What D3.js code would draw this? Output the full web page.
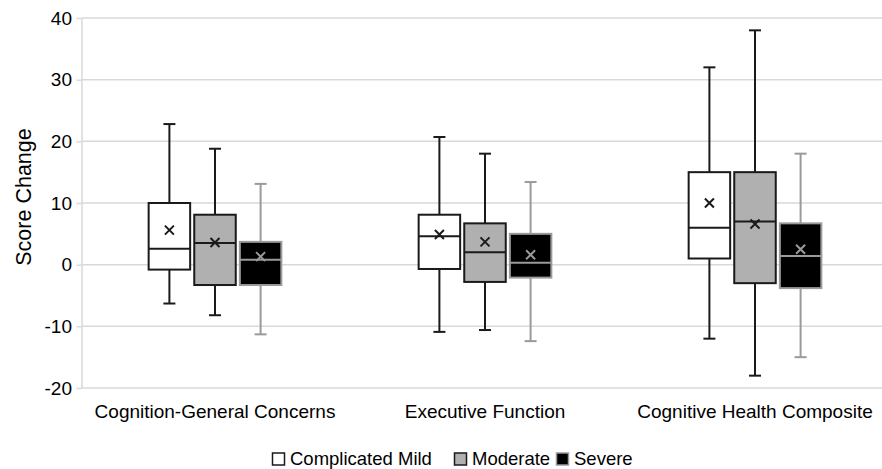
<!DOCTYPE html>
<html>
<head>
<meta charset="utf-8">
<script src="https://cdn.jsdelivr.net/npm/d3@7"></script>
<style>
  html, body { margin: 0; padding: 0; background: #fff; }
  svg { display: block; font-family: "Liberation Sans", Arial, sans-serif; }
</style>
</head>
<body>
<svg id="chart" width="882" height="469"></svg>
<script>
const categories = ["Cognition-General Concerns", "Executive Function", "Cognitive Health Composite"];
const series = ["Complicated Mild", "Moderate", "Severe"];
const yTicks = [-20, -10, 0, 10, 20, 30, 40];

// per series, one value per category
const whiskerLow = {
  "Complicated Mild": [-6.3, -10.9, -12],
  "Moderate": [-8.2, -10.6, -18],
  "Severe": [-11.3, -12.4, -15]
};
const q1 = {
  "Complicated Mild": [-0.8, -0.7, 1],
  "Moderate": [-3.3, -2.8, -3],
  "Severe": [-3.3, -2.1, -3.8]
};
const median = {
  "Complicated Mild": [2.6, 4.6, 6],
  "Moderate": [3.5, 2.0, 7],
  "Severe": [0.8, 0.3, 1.4]
};
const q3 = {
  "Complicated Mild": [10, 8.1, 15],
  "Moderate": [8.1, 6.7, 15],
  "Severe": [3.7, 5.0, 6.7]
};
const whiskerHigh = {
  "Complicated Mild": [22.8, 20.7, 32],
  "Moderate": [18.8, 18, 38],
  "Severe": [13.1, 13.4, 18]
};
const mean = {
  "Complicated Mild": [5.6, 4.9, 10],
  "Moderate": [3.6, 3.7, 6.6],
  "Severe": [1.3, 1.6, 2.5]
};

const fills = { "Complicated Mild": "#ffffff", "Moderate": "#b0b0b0", "Severe": "#000000" };
const strokes = { "Complicated Mild": "#1a1a1a", "Moderate": "#1a1a1a", "Severe": "#9a9a9a" };

const svg = d3.select("#chart");
const W = 882, H = 469;

const y = d3.scaleLinear().domain([-20, 40]).range([388, 18]);
const x = d3.scaleBand().domain(categories).range([80, 890]).padding(0);
const xs = d3.scalePoint().domain(series).range([-45.6, 45.6]);
const boxW = 41.5;
const capW = 12;
const axisX = 81.5;

// gridlines
svg.append("g").selectAll("line").data(yTicks).join("line")
  .attr("x1", axisX).attr("x2", W)
  .attr("y1", d => y(d)).attr("y2", d => y(d))
  .attr("stroke", "#d9d9d9").attr("stroke-width", 1.5);

// y axis
const yAxis = svg.append("g").attr("transform", `translate(${axisX},0)`)
  .call(d3.axisLeft(y).tickValues(yTicks).tickFormat(d => String(d))
    .tickSizeOuter(0).tickSizeInner(5).tickPadding(4.5));
yAxis.select(".domain").attr("stroke", "#d9d9d9").attr("stroke-width", 1.5);
yAxis.selectAll(".tick line").attr("stroke", "#d9d9d9").attr("stroke-width", 1.5);
yAxis.selectAll(".tick text").attr("fill", "#000").attr("font-size", 19)
  .attr("font-family", "Liberation Sans, Arial, sans-serif");

// axis title
svg.append("text")
  .attr("transform", `translate(31,197) rotate(-90)`)
  .attr("text-anchor", "middle")
  .attr("font-size", 21.5)
  .attr("fill", "#000")
  .text("Score Change");

// category labels
svg.append("g").selectAll("text").data(categories).join("text")
  .attr("x", d => x(d) + x.bandwidth() / 2)
  .attr("y", 418)
  .attr("text-anchor", "middle")
  .attr("font-size", 19)
  .attr("fill", "#000")
  .text(d => d);

// boxes
const items = [];
series.forEach(s => categories.forEach((c, i) => {
  items.push({ s, c, lo: whiskerLow[s][i], q1: q1[s][i], med: median[s][i], q3: q3[s][i], hi: whiskerHigh[s][i], mean: mean[s][i] });
}));

const g = svg.append("g").selectAll("g").data(items).join("g")
  .attr("transform", d => `translate(${x(d.c) + x.bandwidth() / 2 + xs(d.s)},0)`);

// whiskers
g.append("line").attr("x1", 0).attr("x2", 0)
  .attr("y1", d => y(d.hi)).attr("y2", d => y(d.q3))
  .attr("stroke", d => strokes[d.s]).attr("stroke-width", 2);
g.append("line").attr("x1", 0).attr("x2", 0)
  .attr("y1", d => y(d.q1)).attr("y2", d => y(d.lo))
  .attr("stroke", d => strokes[d.s]).attr("stroke-width", 2);
g.append("line").attr("x1", -capW / 2).attr("x2", capW / 2)
  .attr("y1", d => y(d.hi)).attr("y2", d => y(d.hi))
  .attr("stroke", d => strokes[d.s]).attr("stroke-width", 2);
g.append("line").attr("x1", -capW / 2).attr("x2", capW / 2)
  .attr("y1", d => y(d.lo)).attr("y2", d => y(d.lo))
  .attr("stroke", d => strokes[d.s]).attr("stroke-width", 2);

// box
g.append("rect")
  .attr("x", -boxW / 2).attr("width", boxW)
  .attr("y", d => y(d.q3)).attr("height", d => y(d.q1) - y(d.q3))
  .attr("fill", d => fills[d.s])
  .attr("stroke", d => strokes[d.s]).attr("stroke-width", 2);

// median
g.append("line").attr("x1", -boxW / 2).attr("x2", boxW / 2)
  .attr("y1", d => y(d.med)).attr("y2", d => y(d.med))
  .attr("stroke", d => strokes[d.s]).attr("stroke-width", 2);

// mean marker (x)
const m = 4.5;
g.append("path")
  .attr("d", d => `M${-m},${y(d.mean) - m}L${m},${y(d.mean) + m}M${m},${y(d.mean) - m}L${-m},${y(d.mean) + m}`)
  .attr("stroke", d => strokes[d.s]).attr("stroke-width", 2).attr("fill", "none");

// legend
const legendPos = { "Complicated Mild": 272.5, "Moderate": 454.5, "Severe": 556.5 };
const lg = svg.append("g").selectAll("g").data(series).join("g")
  .attr("transform", d => `translate(${legendPos[d]},453)`);
lg.append("rect").attr("x", 0).attr("y", 0).attr("width", 12).attr("height", 12)
  .attr("fill", d => fills[d])
  .attr("stroke", d => d === "Severe" ? "#9a9a9a" : "#1a1a1a").attr("stroke-width", 1.5);
lg.append("text").attr("x", 17.5).attr("y", 11.5)
  .attr("font-size", 18.5).attr("fill", "#000")
  .text(d => d);
</script>
</body>
</html>
